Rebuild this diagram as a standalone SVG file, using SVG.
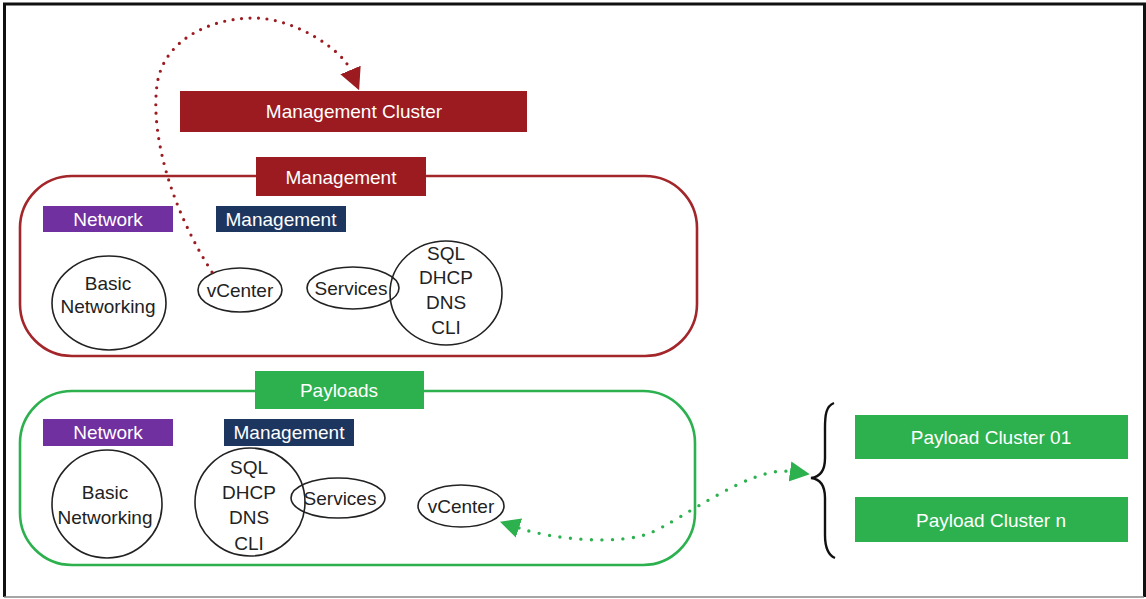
<svg xmlns="http://www.w3.org/2000/svg" width="1146" height="599" viewBox="0 0 1146 599">
<defs>
<style>
text{font-family:"Liberation Sans",Arial,sans-serif;font-size:19px;text-anchor:middle;dominant-baseline:central}
.w{fill:#fff}
.k{fill:#222}
.red{fill:#9b1b20}
.grn{fill:#2cb14e}
.pur{fill:#7030a0}
.nav{fill:#1c3660}
.node{fill:#fff;stroke:#222;stroke-width:1.6}
.dotr{fill:none;stroke:#9b1b20;stroke-width:3.2;stroke-linecap:round;stroke-dasharray:0 8.5}
.dotg{fill:none;stroke:#2cb14e;stroke-width:3.4;stroke-linecap:round;stroke-dasharray:0 10.5}
</style>
<marker id="ar" viewBox="0 0 10 10" refX="0" refY="5" markerUnits="userSpaceOnUse" markerWidth="22" markerHeight="24" orient="auto"><path d="M0,0 L10,5 L0,10 z" fill="#9b1b20"/></marker>
<marker id="ag" viewBox="0 0 10 10" refX="0" refY="5" markerUnits="userSpaceOnUse" markerWidth="20" markerHeight="24" orient="auto-start-reverse"><path d="M0,0 L10,5 L0,10 z" fill="#2cb14e"/></marker>
</defs>
<rect width="1146" height="599" fill="#fff"/>
<path d="M4.5,597 V4 H1144.5 V597" fill="none" stroke="#111" stroke-width="3"/>
<line x1="4" y1="597" x2="1144" y2="597" stroke="#888" stroke-width="1.5"/>

<g id="mgmt-cluster"><rect class="red" x="180" y="91" width="347" height="41"/><text class="w" x="354" y="111.5">Management Cluster</text></g>

<g id="mgmt-zone">
<rect x="20" y="176" width="677" height="180" rx="52" fill="none" stroke="#a3262b" stroke-width="2.6"/>
<rect class="red" x="256" y="157" width="170" height="39"/><text class="w" x="341" y="177">Management</text>
</g>
<g id="mgmt-network"><rect class="pur" x="43" y="206" width="130" height="26"/><text class="w" x="108" y="219">Network</text></g>
<g id="mgmt-management"><rect class="nav" x="216" y="206" width="130" height="26"/><text class="w" x="281" y="219">Management</text></g>
<g id="mgmt-basic"><ellipse class="node" cx="109" cy="303" rx="57" ry="47"/><text class="k" x="108" y="283">Basic</text><text class="k" x="108" y="306">Networking</text></g>
<g id="mgmt-vcenter"><ellipse class="node" cx="240" cy="290" rx="42" ry="22"/><text class="k" x="240" y="290">vCenter</text></g>
<g id="mgmt-sql"><ellipse class="node" cx="446" cy="293" rx="56" ry="52"/><text class="k" x="446" y="253">SQL</text><text class="k" x="446" y="277">DHCP</text><text class="k" x="446" y="302">DNS</text><text class="k" x="446" y="327">CLI</text></g>
<g id="mgmt-services"><ellipse class="node" cx="353" cy="288" rx="46" ry="21" fill="none" style="fill:none"/><text class="k" x="351" y="288">Services</text></g>

<g id="payload-zone">
<rect x="20" y="391" width="675" height="174" rx="52" fill="none" stroke="#2cb14e" stroke-width="2.6"/>
<rect class="grn" x="255" y="371" width="169" height="38"/><text class="w" x="339" y="390">Payloads</text>
</g>
<g id="pl-network"><rect class="pur" x="43" y="419" width="130" height="27"/><text class="w" x="108" y="432">Network</text></g>
<g id="pl-management"><rect class="nav" x="224" y="419" width="130" height="27"/><text class="w" x="289" y="432">Management</text></g>
<g id="pl-basic"><ellipse class="node" cx="107" cy="504" rx="55" ry="54"/><text class="k" x="105" y="492">Basic</text><text class="k" x="105" y="517">Networking</text></g>
<g id="pl-sql"><ellipse class="node" cx="250" cy="502" rx="55" ry="54"/><text class="k" x="249" y="467">SQL</text><text class="k" x="249" y="492">DHCP</text><text class="k" x="249" y="517">DNS</text><text class="k" x="249" y="543">CLI</text></g>
<g id="pl-services"><ellipse class="node" cx="338" cy="498" rx="47" ry="20" style="fill:none"/><text class="k" x="340" y="498">Services</text></g>
<g id="pl-vcenter"><ellipse class="node" cx="461" cy="506" rx="43" ry="21"/><text class="k" x="461" y="506">vCenter</text></g>

<g id="payload-cluster-01"><rect class="grn" x="855" y="415" width="273" height="44"/><text class="w" x="991" y="437">Payload Cluster 01</text></g>
<g id="payload-cluster-n"><rect class="grn" x="855" y="497" width="273" height="45"/><text class="w" x="991" y="520">Payload Cluster n</text></g>

<g id="connectors">
<path class="dotr" d="M212,272 C175,215 150,140 157,85 C163,40 210,18 254,18 C295,18 342,50 350.5,70" marker-end="url(#ar)"/>
<path class="dotg" d="M519,528 C555,540 620,545 650,533 C680,521 750,466 790,471.5" marker-start="url(#ag)" marker-end="url(#ag)"/>
<path d="M834,403 C826,406 825,415 825,428 L825,458 C825,470 820,477 811,478 C820,479 825,486 825,498 L825,535 C825,548 828,555 835,558" fill="none" stroke="#111" stroke-width="2.4"/>
</g>
</svg>
